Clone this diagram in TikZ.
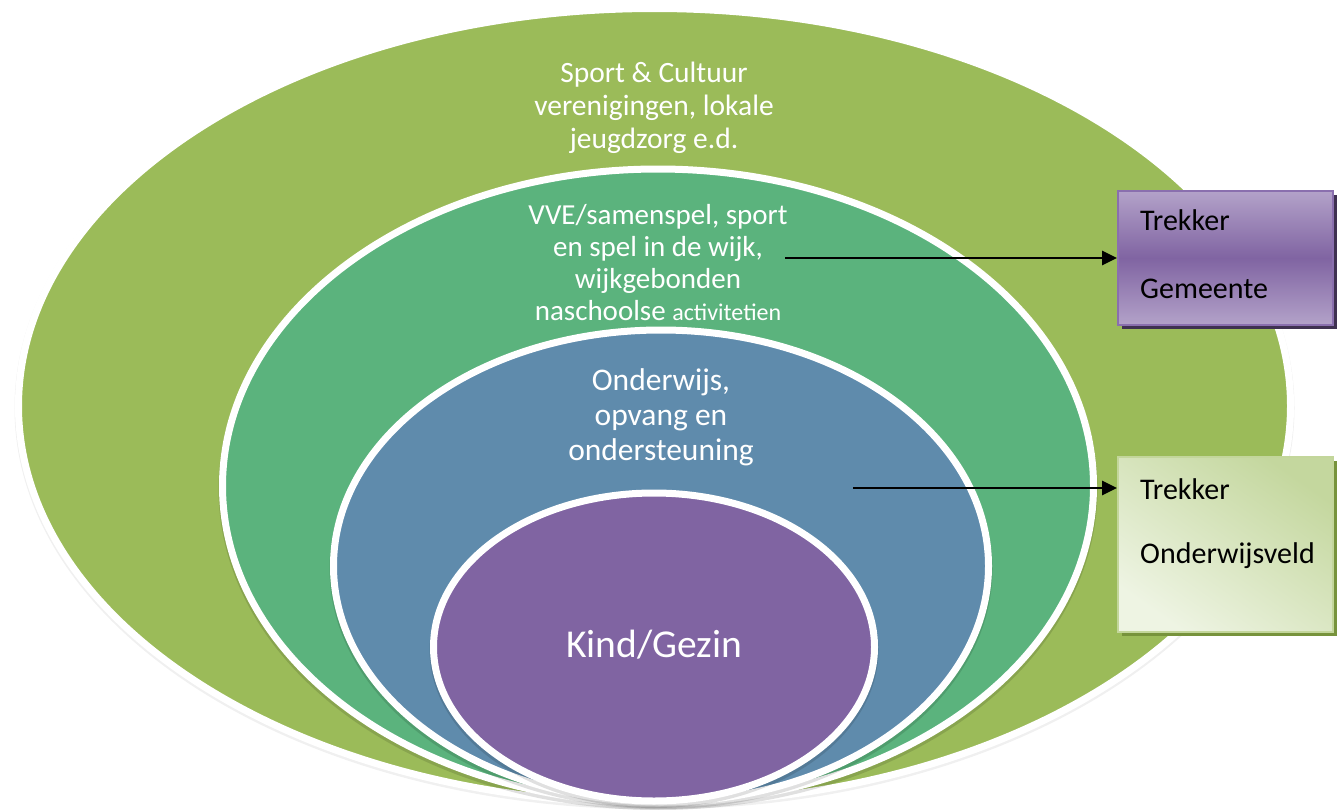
\documentclass[tikz,border=0pt]{standalone}
\usepackage{fontspec}
\setmainfont{Carlito}
\usetikzlibrary{shapes.geometric,arrows.meta}
\definecolor{cOuter}{HTML}{9BBB59}
\definecolor{cTeal}{HTML}{5BB37D}
\definecolor{cBlue}{HTML}{5F8BAC}
\definecolor{cPurple}{HTML}{8064A2}
\definecolor{cBoxPLight}{HTML}{B3A2C9}
\definecolor{cBoxPDark}{HTML}{8064A2}
\definecolor{cBoxPEdge}{HTML}{8A6FAE}
\definecolor{cBoxPShadow}{HTML}{3F3151}
\definecolor{cBoxGLight}{HTML}{EEF4E3}
\definecolor{cBoxGDark}{HTML}{C4D79E}
\definecolor{cBoxGEdge}{HTML}{C3D69B}
\definecolor{cBoxGShadow}{HTML}{77933C}
\begin{document}
\begin{tikzpicture}[x=1pt,y=-1pt,
  ring/.style={ellipse, draw=white, line width=7pt, inner sep=0pt, outer sep=0pt},
  ringshadow/.style={ellipse, draw=black, fill=black, line width=8pt, opacity=0.12, inner sep=0pt, outer sep=0pt},
  lbl/.style={text=white, align=center, inner sep=0pt},
  boxtxt/.style={text=black, anchor=west, inner sep=0pt, font=\fontsize{30}{33}\selectfont},
  arr/.style={-{Triangle[length=15pt,width=14pt]}, line width=2.8pt, black},
  pbox/.style={rectangle, draw=cBoxPEdge, line width=2pt, top color=cBoxPLight, bottom color=cBoxPLight, middle color=cBoxPDark, minimum width=215pt, minimum height=134pt, inner sep=0pt},
  gbox/.style={rectangle, draw=cBoxGEdge, line width=2pt, top color=cBoxGDark, bottom color=cBoxGLight, shading angle=-35, minimum width=215pt, minimum height=175pt, inner sep=0pt},
  boxshadow/.style={rectangle, minimum width=215pt, inner sep=0pt}
]
\fill[white] (0,0) rectangle (1341,809);
\useasboundingbox (0,0) rectangle (1341,809);

% outer ring
\node[ringshadow, opacity=0.06, minimum width=1272pt, minimum height=795pt] (s1) at (654.5,408) {};
\node[ring, fill=cOuter, minimum width=1272pt, minimum height=795pt] (e1) at (654.5,406) {};
% teal ring
\node[ringshadow, minimum width=871pt, minimum height=634pt] (s2) at (658,489) {};
\node[ring, fill=cTeal, minimum width=871pt, minimum height=634pt] (e2) at (658,486) {};
% blue ring
\node[ringshadow, minimum width=655pt, minimum height=472pt] (s3) at (661,569) {};
\node[ring, fill=cBlue, minimum width=655pt, minimum height=472pt] (e3) at (661,566) {};
% purple core
\node[ringshadow, minimum width=441pt, minimum height=308pt] (s4) at (654,650) {};
\node[ring, fill=cPurple, minimum width=441pt, minimum height=308pt] (e4) at (654,647) {};

% texts
\node[lbl, font=\fontsize{29.5}{33}\selectfont] (t1) at (654,108) {Sport \& Cultuur\\verenigingen, lokale\\jeugdzorg e.d.};
\node[lbl, font=\fontsize{29}{32}\selectfont] (t2) at (658,263) {VVE/samenspel, sport\\en spel in de wijk,\\wijkgebonden\\naschoolse {\fontsize{24}{32}\selectfont activitetien}};
\node[lbl, font=\fontsize{31.5}{35}\selectfont] (t3) at (661,417) {Onderwijs,\\opvang en\\ondersteuning};
\node[lbl, font=\fontsize{39.5}{45}\selectfont] (t4) at (654,645) {Kind/Gezin};

% boxes
\node[boxshadow, fill=cBoxPShadow, minimum height=134pt] (b1s) at (1229.5,262) {};
\node[pbox] (b1) at (1225.5,258) {};
\node[boxtxt] (b1a) at (1140,220) {Trekker};
\node[boxtxt] (b1b) at (1140,289) {Gemeente};

\node[boxshadow, fill=cBoxGShadow, minimum height=175pt] (b2s) at (1229.5,548.5) {};
\node[gbox] (b2) at (1225.5,544.5) {};
\node[boxtxt] (b2a) at (1140,489) {Trekker};
\node[boxtxt] (b2b) at (1140,556) {Onderwijsveld};

% arrows
\coordinate (a1) at (785,258);
\draw[arr] (a1) -- (b1.west);
\coordinate (a2) at (853,488);
\draw[arr] (a2) -- (a2 -| b2.west);
\end{tikzpicture}
\end{document}
